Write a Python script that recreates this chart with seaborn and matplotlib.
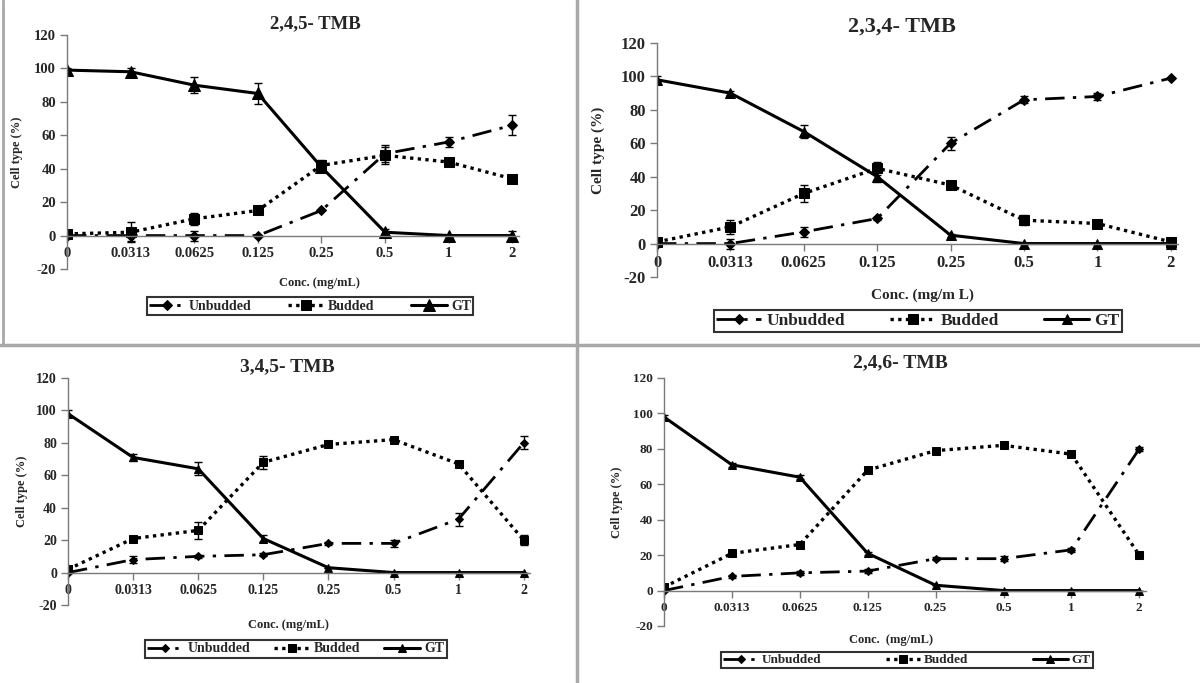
import numpy as np
import matplotlib
matplotlib.use('Agg')
import matplotlib.pyplot as plt
from matplotlib.lines import Line2D
import seaborn as sns

# concentration categories (mg/mL)
conc_labels = ['0', '0.0313', '0.0625', '0.125', '0.25', '0.5', '1', '2']

panel_titles = ['2,4,5- TMB', '2,3,4- TMB', '3,4,5- TMB', '2,4,6- TMB']
panel_xlabels = ['Conc. (mg/mL)', 'Conc. (mg/m L)', 'Conc. (mg/mL)', 'Conc.  (mg/mL)']
series_names = ['Unbudded', 'Budded', 'GT']

# 2,4,5-TMB
tmb245_unbudded = [0, 0, 0, 0, 15, 49, 56, 66]
tmb245_unbudded_err = [1, 3, 3, 0, 0, 5, 3, 6]
tmb245_budded = [1, 2, 10, 15, 42, 48, 44, 34]
tmb245_budded_err = [0, 6, 3.5, 1, 3, 5, 2.5, 0]
tmb245_gt = [99, 98, 90, 85, 41, 2, 0, 0]
tmb245_gt_err = [1, 2, 5, 6, 3, 2, 0, 3]

# 2,3,4-TMB
tmb234_unbudded = [0, 0, 7, 15, 60, 86, 88, 99]
tmb234_unbudded_err = [0, 3, 3, 1, 4, 2, 2, 0]
tmb234_budded = [1, 10, 30, 45, 35, 14, 12, 1]
tmb234_budded_err = [0, 4, 5, 4, 1, 3, 1, 0]
tmb234_gt = [98, 90, 67, 40, 5, 0, 0, 0]
tmb234_gt_err = [2, 1, 4, 3, 1, 0, 0, 0]

# 3,4,5-TMB
tmb345_unbudded = [0, 8, 10, 11, 18, 18, 33, 80]
tmb345_unbudded_err = [0, 2, 1, 1, 1, 2, 4, 4]
tmb345_budded = [2, 21, 26, 68, 79, 82, 67, 20]
tmb345_budded_err = [0, 1, 5, 4, 1, 1, 1, 3]
tmb345_gt = [98, 71, 64, 21, 3, 0, 0, 0]
tmb345_gt_err = [2, 2, 4, 2, 0, 0, 0, 0]

# 2,4,6-TMB
tmb246_unbudded = [0, 8, 10, 11, 18, 18, 23, 80]
tmb246_unbudded_err = [0, 1, 1, 1, 1, 1.5, 1, 1]
tmb246_budded = [2, 21, 26, 68, 79, 82, 77, 20]
tmb246_budded_err = [0, 1, 1, 1, 1, 1, 1, 1]
tmb246_gt = [98, 71, 64, 21, 3, 0, 0, 0]
tmb246_gt_err = [1, 1, 1, 1, 0, 0, 0, 0]

panels = [
    [(tmb245_unbudded, tmb245_unbudded_err), (tmb245_budded, tmb245_budded_err), (tmb245_gt, tmb245_gt_err)],
    [(tmb234_unbudded, tmb234_unbudded_err), (tmb234_budded, tmb234_budded_err), (tmb234_gt, tmb234_gt_err)],
    [(tmb345_unbudded, tmb345_unbudded_err), (tmb345_budded, tmb345_budded_err), (tmb345_gt, tmb345_gt_err)],
    [(tmb246_unbudded, tmb246_unbudded_err), (tmb246_budded, tmb246_budded_err), (tmb246_gt, tmb246_gt_err)],
]

# layout per panel (pixels in a 1200x683 canvas)
W, H = 1200, 683
layouts = [
    dict(left=67, top=35, bottom=269, unit=63.6, tick=10.5, title=13.5, lab=9, leg=10, ms=1.0,
         title_xy=(0.55, 1.05), xlab_xy=(0.56, -0.06), ylab_xy=(-0.11, 0.5), leg_xy=(310, 306), colsp=2.6),
    dict(left=657, top=43, bottom=277, unit=73.4, tick=12, title=16, lab=11, leg=12.5, ms=0.9,
         title_xy=(0.47, 1.07), xlab_xy=(0.51, -0.08), ylab_xy=(-0.113, 0.54), leg_xy=(918, 321), colsp=2.6),
    dict(left=68, top=378, bottom=605, unit=65.1, tick=10, title=14, lab=9, leg=10, ms=0.75,
         title_xy=(0.474, 1.05), xlab_xy=(0.478, -0.09), ylab_xy=(-0.10, 0.5), leg_xy=(296, 649), colsp=1.7),
    dict(left=664, top=378, bottom=626, unit=67.9, tick=9.5, title=14, lab=9, leg=9.5, ms=0.7,
         title_xy=(0.49, 1.06), xlab_xy=(0.47, -0.056), ylab_xy=(-0.098, 0.5), leg_xy=(907, 660), colsp=4.9),
]

sns.set_style('white')
plt.rcParams['font.family'] = ['Liberation Serif', 'DejaVu Serif']
plt.rcParams['font.weight'] = 'bold'
plt.rcParams['axes.unicode_minus'] = False

fig = plt.figure(figsize=(12, 6.83), dpi=100)

line_styles = [
    dict(marker='D', linestyle=(0, (7, 3, 1.2, 3)), lw=2.0, size=5.5),
    dict(marker='s', linestyle=(0, (1.0, 1.3)), lw=2.4, size=7.5),
    dict(marker='^', linestyle='-', lw=2.2, size=8.5),
]

x = np.arange(len(conc_labels))
xmax = 7.1

for data, title, xlab, lay in zip(panels, panel_titles, panel_xlabels, layouts):
    width = xmax * lay['unit']
    ax = fig.add_axes([lay['left'] / W, 1 - lay['bottom'] / H, width / W, (lay['bottom'] - lay['top']) / H])
    for (vals, err), name, st in zip(data, series_names, line_styles):
        sns.lineplot(x=x, y=vals, ax=ax, color='black', marker=st['marker'], linestyle=st['linestyle'],
                     lw=st['lw'], markersize=st['size'] * lay['ms'], markeredgecolor='black',
                     label=name, legend=False)
        ax.errorbar(x, vals, yerr=err, fmt='none', ecolor='black', elinewidth=1.0, capsize=3, capthick=1.0)
    handles = [l for l in ax.get_lines() if l.get_label() in series_names]

    ax.set_xlim(0, xmax)
    ax.set_ylim(-20, 120)
    ax.set_yticks(range(-20, 121, 20))
    ax.set_xticks(x)
    ax.set_xticklabels(conc_labels)
    for s in ['top', 'right']:
        ax.spines[s].set_visible(False)
    ax.spines['bottom'].set_position(('data', 0))
    for s in ['left', 'bottom']:
        ax.spines[s].set_color('#7a7a7a')
        ax.spines[s].set_linewidth(1.0)
    ax.tick_params(axis='both', which='major', direction='out', length=5, width=1, color='#7a7a7a',
                   labelsize=lay['tick'], pad=3)
    ax.tick_params(axis='both', left=True, bottom=True)
    for t in ax.get_xticklabels() + ax.get_yticklabels():
        t.set_fontweight('bold')

    ax.text(lay['title_xy'][0], lay['title_xy'][1], title, transform=ax.transAxes, ha='center', va='center',
            fontsize=lay['title'], fontweight='bold')
    ax.set_xlabel(xlab, fontsize=lay['lab'], fontweight='bold')
    ax.xaxis.set_label_coords(*lay['xlab_xy'])
    ax.xaxis.label.set_va('center')
    ax.set_ylabel('Cell type (%)', fontsize=lay['lab'], fontweight='bold')
    ax.yaxis.set_label_coords(*lay['ylab_xy'])
    ax.yaxis.label.set_va('center')

    leg = ax.legend(handles=handles, labels=series_names, ncol=3, loc='center',
                    bbox_to_anchor=(lay['leg_xy'][0] / W, 1 - lay['leg_xy'][1] / H),
                    bbox_transform=fig.transFigure, frameon=True, fancybox=False, shadow=False,
                    handlelength=2.6, handletextpad=0.3, columnspacing=lay['colsp'], borderpad=0.15,
                    numpoints=1, prop={'size': lay['leg'], 'weight': 'bold'})
    leg.get_frame().set_edgecolor('black')
    leg.get_frame().set_linewidth(1.5)

# grey panel separators
grey = '#a8a8a8'
fig.add_artist(Line2D([577 / W, 577 / W], [0, 1], transform=fig.transFigure, color=grey, lw=2.5))
fig.add_artist(Line2D([0, 1], [1 - 345 / H, 1 - 345 / H], transform=fig.transFigure, color=grey, lw=2.5))
fig.add_artist(Line2D([3 / W, 3 / W], [1 - 345 / H, 1], transform=fig.transFigure, color=grey, lw=2))

fig.savefig('out.png', dpi=100)
